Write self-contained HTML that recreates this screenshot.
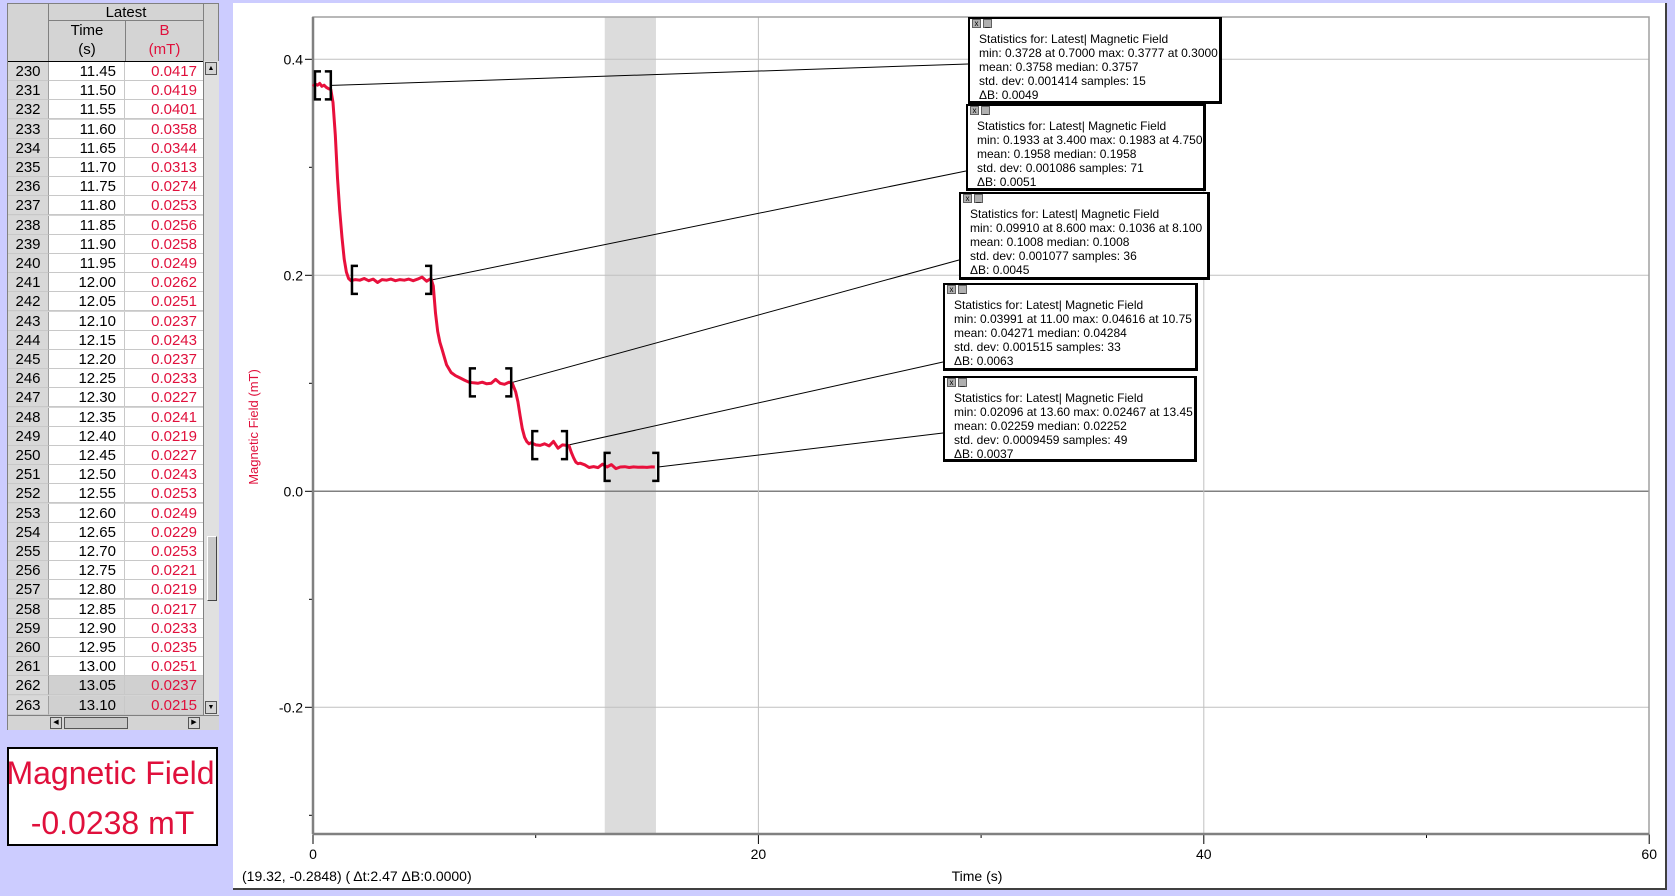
<!DOCTYPE html>
<html><head><meta charset="utf-8">
<style>
*{margin:0;padding:0;box-sizing:border-box}
body{width:1675px;height:896px;background:#ccccff;position:relative;overflow:hidden;font-family:"Liberation Sans",Arial,sans-serif}
.abs{position:absolute}
#table{left:7px;top:3px;width:212px;height:727px;background:#d4d4d4;border:1px solid #808080}
.cell{position:absolute;font-size:15px;text-align:right;height:19px;line-height:19px;border-bottom:1px solid #c8c8c8}
.rh{left:0;width:41px;background:#d8d8d8;text-align:center;border-right:1px solid #a0a0a0;color:#000}
.tc{left:41px;width:76px;background:#fff;padding-right:8px;border-right:1px solid #c8c8c8;color:#000}
.bc{left:117px;width:78px;background:#fff;padding-right:6px;color:#e0103c}
.sel{background:#d0d0d0}
#meter{left:7px;top:747px;width:211px;height:99px;background:#fff;border:2px solid #000;color:#e0103c;text-align:center;font-size:32px;line-height:50px;white-space:nowrap}
#panel{left:233px;top:3px;width:1434px;height:887px;background:#fff;border-right:2px solid #404040;border-bottom:2px solid #404040}
.sbox{position:absolute;background:#fff;border:2px solid #000;border-right-width:3px;border-bottom-width:3px;font-size:12px;line-height:14px;padding:13px 0 0 9px;color:#000;white-space:nowrap}
.ic{position:absolute;top:0;width:9px;height:9px;background:#b0b0b0;border:1px solid #606060;font-size:8px;line-height:7px;text-align:center}
</style></head><body>
<div id="table" class="abs">
  <div class="abs" style="left:40px;top:0;width:155px;height:17px;border-bottom:1px solid #808080;border-left:1px solid #808080;text-align:center;font-size:15px;line-height:17px">Latest</div>
  <div class="abs" style="left:40px;top:17px;width:77px;height:40px;border-left:1px solid #808080;text-align:center;font-size:15px;line-height:19px">Time<br>(s)</div>
  <div class="abs" style="left:117px;top:17px;width:78px;height:40px;border-left:1px solid #808080;text-align:center;font-size:15px;line-height:19px;color:#e0103c">B<br>(mT)</div>
  <div class="abs" style="left:195px;top:0;width:1px;height:711px;background:#808080"></div>
  <div id="rows" class="abs" style="left:0;top:57px;width:195px;height:655px;overflow:hidden;border-top:1px solid #000"></div>
  <div class="abs" style="left:196px;top:57px;width:15px;height:655px;background:#e0e0e0">
    <div class="abs" style="left:1px;top:1px;width:12px;height:13px;background:#d4d4d4;border:1px solid #555;font-size:7px;text-align:center;line-height:11px">▲</div>
    <div class="abs" style="left:3px;top:475px;width:10px;height:65px;background:#c8c8c8;border:1px solid #444;border-top-color:#fff;border-left-color:#fff"></div>
    <div class="abs" style="left:1px;top:640px;width:12px;height:13px;background:#d4d4d4;border:1px solid #555;font-size:7px;text-align:center;line-height:11px">▼</div>
  </div>
  <div class="abs" style="left:0;top:711px;width:211px;height:15px;background:#d4d4d4;border-top:1px solid #808080">
    <div class="abs" style="left:42px;top:1px;width:12px;height:12px;border:1px solid #555;font-size:7px;text-align:center;line-height:10px">◀</div>
    <div class="abs" style="left:56px;top:1px;width:64px;height:12px;background:#c8c8c8;border:1px solid #555"></div>
    <div class="abs" style="left:180px;top:1px;width:12px;height:12px;border:1px solid #555;font-size:7px;text-align:center;line-height:10px">▶</div>
  </div>
</div>
<div id="meter" class="abs"><div style="margin-top:-1px;margin-left:-4px">Magnetic Field</div><div>-0.0238 mT</div></div>
<div id="panel" class="abs"></div>
<svg id="chart" class="abs" style="left:0;top:0" width="1675" height="896"></svg>

<div class="sbox" style="left:968px;top:17px;width:254px;height:87px"><div class="ic" style="left:2px">x</div><div class="ic" style="left:13px">_</div>Statistics for: Latest| Magnetic Field<br>min: 0.3728 at 0.7000 max: 0.3777 at 0.3000<br>mean: 0.3758 median: 0.3757<br>std. dev: 0.001414 samples: 15<br>ΔB: 0.0049</div>
<div class="sbox" style="left:966px;top:104px;width:240px;height:87px"><div class="ic" style="left:2px">x</div><div class="ic" style="left:13px">_</div>Statistics for: Latest| Magnetic Field<br>min: 0.1933 at 3.400 max: 0.1983 at 4.750<br>mean: 0.1958 median: 0.1958<br>std. dev: 0.001086 samples: 71<br>ΔB: 0.0051</div>
<div class="sbox" style="left:959px;top:192px;width:251px;height:88px"><div class="ic" style="left:2px">x</div><div class="ic" style="left:13px">_</div>Statistics for: Latest| Magnetic Field<br>min: 0.09910 at 8.600 max: 0.1036 at 8.100<br>mean: 0.1008 median: 0.1008<br>std. dev: 0.001077 samples: 36<br>ΔB: 0.0045</div>
<div class="sbox" style="left:943px;top:283px;width:255px;height:88px"><div class="ic" style="left:2px">x</div><div class="ic" style="left:13px">_</div>Statistics for: Latest| Magnetic Field<br>min: 0.03991 at 11.00 max: 0.04616 at 10.75<br>mean: 0.04271 median: 0.04284<br>std. dev: 0.001515 samples: 33<br>ΔB: 0.0063</div>
<div class="sbox" style="left:943px;top:376px;width:254px;height:86px"><div class="ic" style="left:2px">x</div><div class="ic" style="left:13px">_</div>Statistics for: Latest| Magnetic Field<br>min: 0.02096 at 13.60 max: 0.02467 at 13.45<br>mean: 0.02259 median: 0.02252<br>std. dev: 0.0009459 samples: 49<br>ΔB: 0.0037</div>

<script>
// table data
const rowNums = [230,231,232,233,234,235,236,237,238,239,240,241,242,243,244,245,246,247,248,249,250,251,252,253,254,255,256,257,258,259,260,261,262,263];
const rowTimes = ["11.45","11.50","11.55","11.60","11.65","11.70","11.75","11.80","11.85","11.90","11.95","12.00","12.05","12.10","12.15","12.20","12.25","12.30","12.35","12.40","12.45","12.50","12.55","12.60","12.65","12.70","12.75","12.80","12.85","12.90","12.95","13.00","13.05","13.10"];
const rowB = ["0.0417","0.0419","0.0401","0.0358","0.0344","0.0313","0.0274","0.0253","0.0256","0.0258","0.0249","0.0262","0.0251","0.0237","0.0243","0.0237","0.0233","0.0227","0.0241","0.0219","0.0227","0.0243","0.0253","0.0249","0.0229","0.0253","0.0221","0.0219","0.0217","0.0233","0.0235","0.0251","0.0237","0.0215"];
// chart data
const times = [0,0.1,0.2,0.3,0.4,0.5,0.6,0.7,
 0.8,0.9,1.0,1.1,1.2,1.3,1.4,1.5,1.6,1.7,
 1.9,2.1,2.3,2.5,2.7,2.9,3.1,3.3,3.5,3.7,3.9,4.1,4.3,4.5,4.7,4.9,5.1,5.3,
 5.4,5.5,5.6,5.7,5.8,5.9,6.0,6.2,6.4,6.6,6.8,
 7.0,7.2,7.4,7.6,7.8,8.0,8.2,8.4,8.6,8.8,
 8.95,9.1,9.2,9.3,9.4,9.5,9.6,9.7,9.8,
 10.0,10.2,10.4,10.6,10.8,11.0,11.2,11.4,
 11.5,11.6,11.7,11.8,11.9,12.0,12.2,12.4,12.6,12.8,13.0,
 13.2,13.4,13.6,13.8,14.0,14.2,14.4,14.6,14.8,15.0,15.2,15.35];
const fieldValues = [0.375,0.377,0.376,0.3777,0.375,0.376,0.374,0.3728,
 0.372,0.36,0.33,0.29,0.26,0.235,0.215,0.203,0.197,0.195,
 0.196,0.1955,0.197,0.195,0.1965,0.1933,0.196,0.1955,0.1965,0.195,0.196,0.1955,0.1965,0.195,0.1965,0.1983,0.1945,0.197,
 0.19,0.165,0.148,0.138,0.131,0.124,0.117,0.110,0.107,0.105,0.103,
 0.101,0.1005,0.1,0.101,0.0995,0.1,0.1036,0.1,0.0991,0.101,
 0.1,0.092,0.083,0.07,0.058,0.05,0.046,0.044,0.045,
 0.043,0.0425,0.044,0.042,0.0462,0.0399,0.043,0.0425,
 0.042,0.036,0.031,0.027,0.0256,0.026,0.0245,0.022,0.0229,0.0219,0.0251,
 0.0225,0.0247,0.021,0.0225,0.0228,0.022,0.0226,0.0222,0.0224,0.0221,0.0226,0.0225];
const statStart = [0.09,1.75,7.05,9.85,13.1];
const statEnd = [0.8,5.3,8.9,11.4,15.5];
const statMean = [0.3758,0.1958,0.1008,0.04271,0.02259];
const xTicks = [0,20,40,60];
const yTicks = [0.4,0.2,0.0,-0.2];
const yTickLabels = ["0.4","0.2","0.0","-0.2"];
const shadeRange = [13.1,15.4];

// build table
const rows = document.getElementById('rows');
rowNums.forEach((n,i)=>{
  const y = i*19.2;
  const sel = i>=32 ? ' sel' : '';
  const a=document.createElement('div'); a.className='cell rh'; a.style.top=y+'px'; a.textContent=n;
  
  
  const b=document.createElement('div'); b.className='cell tc'+sel; b.style.top=y+'px'; b.textContent=rowTimes[i];
  
  
  const c=document.createElement('div'); c.className='cell bc'+sel; c.style.top=y+'px'; c.textContent=rowB[i];
  
  
  rows.appendChild(a); rows.appendChild(b); rows.appendChild(c);
});

// chart
const svg=document.getElementById('chart');
const NS='http://www.w3.org/2000/svg';
const X0=313, XS=22.27, Y0=491.3, YS=1080;
const PL=313, PR=1649, PT=17, PB=834;
const sx=t=>X0+t*XS, sy=v=>Y0-v*YS;
function el(tag,attrs,name,inter){const e=document.createElementNS(NS,tag);for(const k in attrs)e.setAttribute(k,attrs[k]);
  
  
  svg.appendChild(e);return e;}
el('rect',{x:sx(shadeRange[0]),y:PT,width:sx(shadeRange[1])-sx(shadeRange[0]),height:PB-PT,fill:'#dcdcdc'},'selection-region',true);
yTicks.forEach((v,i)=>{
  el('line',{x1:PL,x2:PR,y1:sy(v),y2:sy(v),stroke:v===0?'#808080':'#c0c0c0','stroke-width':v===0?1.5:1},'y-gridline',false);
  el('line',{x1:PL-8,x2:PL,y1:sy(v),y2:sy(v),stroke:'#000'},'y-tick',false);
  const t=el('text',{x:PL-10,y:sy(v)+5,'text-anchor':'end','font-size':14,fill:'#000','font-family':'Liberation Sans'},'y-tick-label',false);t.textContent=yTickLabels[i];
});
for(let v=-0.3;v<=0.41;v+=0.2){el('line',{x1:PL-4,x2:PL,y1:sy(v),y2:sy(v),stroke:'#000'},'y-minor-tick',false);}
xTicks.forEach(t=>{
  if(t>0&&t<60) el('line',{x1:sx(t),x2:sx(t),y1:PT,y2:PB,stroke:'#c0c0c0'},'x-gridline',false);
  el('line',{x1:sx(t),x2:sx(t),y1:PB,y2:PB+10,stroke:'#000'},'x-tick',false);
  const tx=el('text',{x:sx(t),y:PB+25,'text-anchor':'middle','font-size':14,fill:'#000','font-family':'Liberation Sans'},'x-tick-label',false);tx.textContent=t;
});
[10,30,50].forEach(t=>el('line',{x1:sx(t),x2:sx(t),y1:PB,y2:PB+4,stroke:'#000'},'x-minor-tick',false));
el('rect',{x:PL,y:PT,width:PR-PL,height:PB-PT,fill:'none',stroke:'#a0a0a0','stroke-width':1.5},'plot-frame',false);
el('line',{x1:PL,x2:PL,y1:PT,y2:PB,stroke:'#808080','stroke-width':2.5},'y-axis',false);
el('line',{x1:PL,x2:PR,y1:PB,y2:PB,stroke:'#808080','stroke-width':2.5},'x-axis',false);
// leader lines
const boxAnchors=[[968,64],[966,171],[959,260],[943,362],[943,433]];
statEnd.forEach((t,i)=>el('line',{x1:sx(t)+1,y1:sy(statMean[i]),x2:boxAnchors[i][0],y2:boxAnchors[i][1],stroke:'#000','stroke-width':1},'stats-leader-line',false));
// series
let d='';times.forEach((t,i)=>{d+=(i?'L':'M')+sx(t).toFixed(1)+' '+sy(fieldValues[i]).toFixed(1);});
el('path',{d:d,fill:'none',stroke:'#e8103c','stroke-width':3,'stroke-linejoin':'round'},'magnetic-field-series',true);
// brackets
statStart.forEach((t,i)=>{
  const y=sy(statMean[i]),h=14,a=sx(t),b=sx(statEnd[i]);
  el('path',{d:`M${a+6} ${y-h}H${a}V${y+h}H${a+6}`,fill:'none',stroke:'#000','stroke-width':2.5},'stats-bracket-left',true);
  el('path',{d:`M${b-6} ${y-h}H${b}V${y+h}H${b-6}`,fill:'none',stroke:'#000','stroke-width':2.5},'stats-bracket-right',true);
});
const yt=el('text',{x:0,y:0,transform:'translate(258,427) rotate(-90)','text-anchor':'middle','font-size':13,fill:'#e0103c','font-family':'Liberation Sans'},'y-axis-title',false);yt.textContent='Magnetic Field (mT)';
const xt=el('text',{x:977,y:881,'text-anchor':'middle','font-size':14,fill:'#000','font-family':'Liberation Sans'},'x-axis-title',false);xt.textContent='Time (s)';
const ct=el('text',{x:242,y:881,'font-size':14,fill:'#000','font-family':'Liberation Sans'},'cursor-readout',false);ct.textContent='(19.32, -0.2848) ( Δt:2.47 ΔB:0.0000)';
</script>
</body></html>
